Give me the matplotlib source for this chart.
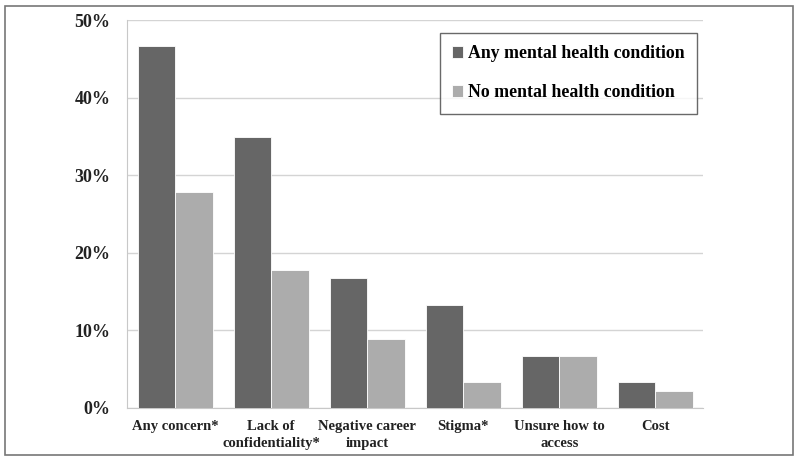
import numpy as np
import matplotlib
matplotlib.use('Agg')
import matplotlib.pyplot as plt
from matplotlib.patches import Rectangle
from matplotlib.ticker import PercentFormatter

categories = ['Any concern*', 'Lack of\nconfidentiality*', 'Negative career\nimpact',
              'Stigma*', 'Unsure how to\naccess', 'Cost']
any_condition = [46.7, 35.0, 16.7, 13.3, 6.7, 3.3]
no_condition = [27.8, 17.8, 8.9, 3.3, 6.7, 2.2]
series_labels = ['Any mental health condition', 'No mental health condition']

plt.rcParams['font.family'] = ['Liberation Serif', 'DejaVu Serif']
plt.rcParams['font.weight'] = 'bold'

fig = plt.figure(figsize=(8, 4.63), dpi=100)
ax = fig.add_axes([0.159, 0.1194, 0.72, 0.8367])

x = np.arange(len(categories))
w = 0.39
ax.bar(x - w / 2, any_condition, w, color='#666666', edgecolor='white', linewidth=0.6,
       label=series_labels[0], zorder=3)
ax.bar(x + w / 2, no_condition, w, color='#acacac', edgecolor='white', linewidth=0.6,
       label=series_labels[1], zorder=3)

ax.set_xlim(-0.5, len(categories) - 0.5)
ax.set_ylim(0, 50)
ax.set_yticks([0, 10, 20, 30, 40, 50])
ax.yaxis.set_major_formatter(PercentFormatter(decimals=0))
ax.set_xticks(x)
ax.set_xticklabels(categories, fontsize=10.5, fontweight='bold', color='#222222', linespacing=1.4)
for lab in ax.get_yticklabels():
    lab.set_fontsize(13)
    lab.set_fontweight('bold')
    lab.set_color('#222222')
ax.tick_params(axis='both', length=0)
ax.tick_params(axis='y', pad=12)
ax.tick_params(axis='x', pad=9)

ax.grid(axis='y', color='#d4d4d4', linewidth=1, zorder=0)
for s in ['top', 'right']:
    ax.spines[s].set_visible(False)
ax.spines['left'].set_color('#c8c8c8')
ax.spines['bottom'].set_color('#c8c8c8')

leg = ax.legend(loc='upper right', bbox_to_anchor=(0.99, 0.968), frameon=True, fancybox=False,
                prop={'family': 'Liberation Serif', 'weight': 'bold', 'size': 12.8},
                handlelength=0.6, handleheight=0.6, handletextpad=0.3, labelspacing=1.25,
                borderpad=0.7, borderaxespad=0)
leg.get_frame().set_edgecolor('#444444')
leg.get_frame().set_linewidth(1.0)

fig.patches.append(Rectangle((0.006, 0.017), 0.985, 0.97, transform=fig.transFigure,
                             fill=False, edgecolor='#777777', linewidth=1.2))

plt.savefig('out.png', dpi=100)
